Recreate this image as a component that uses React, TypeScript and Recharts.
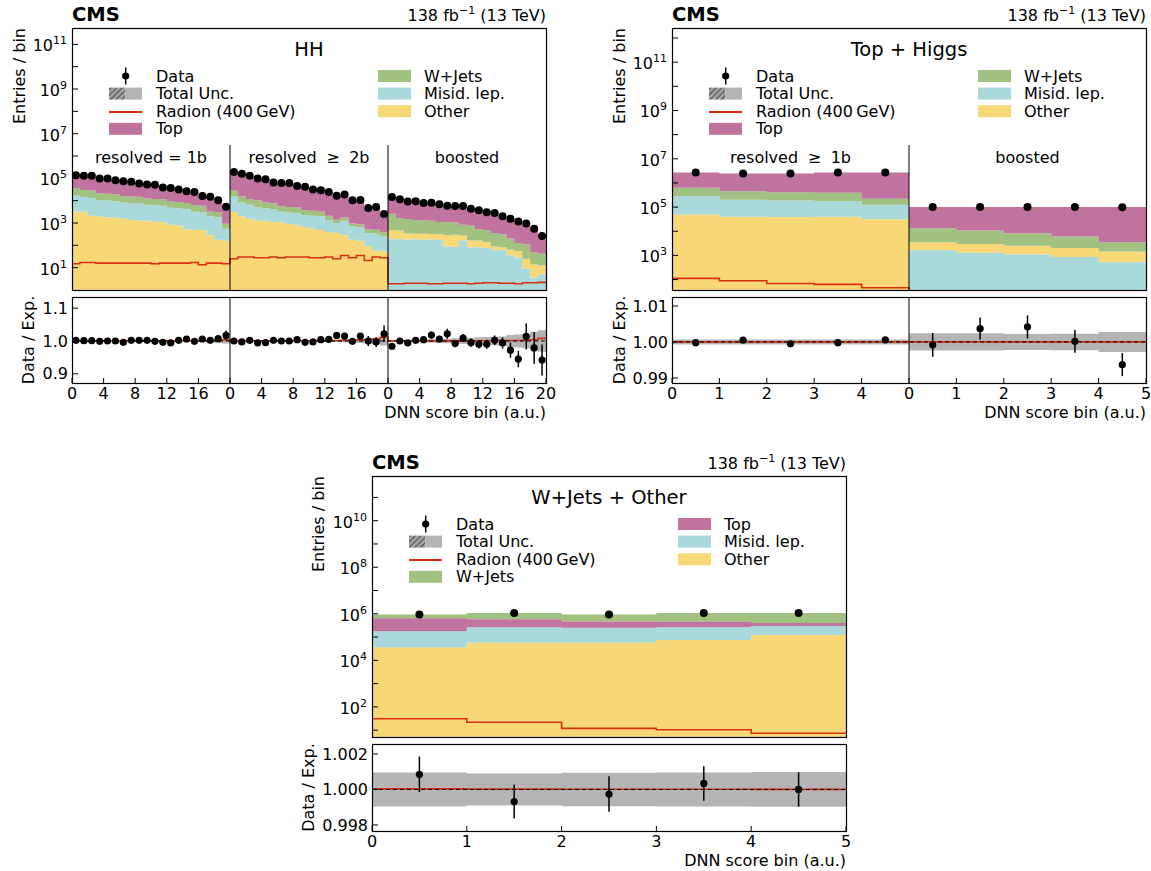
import React from "react";
import {
  ComposedChart,
  Area,
  Line,
  Scatter,
  ErrorBar,
  XAxis,
  YAxis,
  ReferenceLine,
} from "recharts";

const FONT = "'DejaVu Sans', Verdana, sans-serif";

type Proc = "top" | "wjets" | "misid" | "other";
type LegendKey = Proc | "data" | "unc" | "sig";

const PROCS: Proc[] = ["other", "misid", "wjets", "top"];
const COLORS: Record<Proc, string> = {
  top: "#c0739f",
  wjets: "#a0c180",
  misid: "#a9d9db",
  other: "#f8d776",
};
const LABELS: Record<Proc, string> = {
  top: "Top",
  wjets: "W+Jets",
  misid: "Misid. lep.",
  other: "Other",
};
const RADION_COLOR = "#d8300e";
const UNC_COLOR = "#b4b4b4";
const GE = "\u2002\u200a\u2265\u2002\u200a";

// ---------- HH category (3 regions x 20 bins) ----------
const HH_REGIONS = ["resolved = 1b", `resolved${GE}2b`, "boosted"];
const HH_OTHER = [
  3300, 3200, 2100, 2000, 1800, 1700, 1650, 1350, 1300, 1250, 1150, 1100, 830, 790, 520, 500, 480, 280, 180, 165,
  3100, 2000, 1550, 1300, 1250, 1100, 1070, 910, 790, 660, 560, 480, 400, 355, 280, 180, 160, 91, 58, 55,
  282, 271, 157, 145, 153, 142, 142, 193, 210, 109, 83, 87, 65, 26, 23, 28, 28, 16, 10.5, 7.6,
];
const HH_MISID = [
  14100, 11300, 11100, 8700, 8400, 8050, 6650, 6550, 6300, 5350, 5150, 4800, 3970, 3700, 3680, 2700, 2470, 1720, 1600, 395,
  11700, 6300, 5050, 3700, 3350, 3100, 2090, 2040, 2010, 1580, 1530, 1520, 950, 645, 980, 530, 470, 264, 272, 195,
  186, 186, 182, 186, 178, 182, 174, 89, 85, 166, 83, 79, 76, 63, 60, 35, 28, 9, 3.5, 5,
];
const HH_WJETS = [
  19800, 15700, 15000, 10700, 10200, 9700, 7900, 7600, 7200, 6000, 5700, 5600, 4300, 4200, 3700, 3100, 2950, 1300, 1220, 370,
  12700, 7500, 5400, 5500, 3700, 3400, 2440, 2300, 2200, 1560, 1460, 1300, 740, 410, 520, 245, 260, 170, 170, 130,
  2160, 1200, 1170, 1020, 960, 936, 804, 818, 755, 555, 594, 359, 339, 266, 233, 137, 70, 87, 34, 29,
];
const HH_TOP = [
  101000, 99000, 101000, 77000, 78000, 62000, 58000, 54000, 44000, 40000, 40000, 27500, 28000, 23000, 18500, 18000, 10000, 11500, 7500, 4300,
  167000, 146000, 117000, 87500, 83000, 57500, 56500, 57000, 40000, 38000, 28000, 26000, 22500, 14800, 16800, 9500, 9600, 4200, 4750, 2070,
  12200, 9800, 7800, 7950, 6600, 6650, 5800, 4650, 4700, 4900, 3600, 3200, 2600, 2450, 1700, 1400, 1100, 820, 510, 240,
];
const HH_RADION = [
  15, 17, 17, 16, 16, 16, 16, 16, 16, 16, 15, 16, 16, 16, 16, 17, 13.5, 16, 16, 15,
  25, 30, 30, 28, 28, 30, 28, 30, 30, 30, 28, 28, 30, 25, 35, 28, 35, 21, 30, 28,
  1.9, 1.9, 2.0, 2.0, 2.0, 1.9, 1.9, 2.0, 2.0, 2.0, 1.9, 2.0, 2.1, 2.1, 2.0, 2.0, 1.9, 2.1, 2.1, 2.2,
];
const HH_RATIO = [
  1.002, 1.001, 1.001, 0.999, 1.0, 1.0, 0.996, 1.002, 1.002, 1.002, 0.999, 0.996, 0.994, 1.002, 1.006, 0.999, 1.006, 1.002, 1.007, 1.017,
  1.0, 0.997, 1.002, 0.994, 0.995, 1.002, 1.0, 1.0, 1.004, 0.996, 0.997, 1.004, 1.005, 1.017, 1.015, 0.999, 1.015, 1.0, 0.997, 1.022,
  0.984, 1.0, 0.994, 1.002, 1.004, 1.018, 1.006, 1.022, 0.992, 1.009, 0.995, 0.99, 0.99, 1.002, 0.994, 0.972, 0.945, 1.014, 0.979, 0.942,
];
const HH_RATIO_ERR = [
  0.002, 0.002, 0.002, 0.002, 0.002, 0.002, 0.002, 0.002, 0.002, 0.002, 0.002, 0.003, 0.003, 0.003, 0.003, 0.004, 0.004, 0.005, 0.007, 0.015,
  0.002, 0.002, 0.002, 0.002, 0.002, 0.003, 0.003, 0.003, 0.003, 0.003, 0.004, 0.004, 0.004, 0.005, 0.005, 0.006, 0.008, 0.015, 0.015, 0.025,
  0.006, 0.006, 0.007, 0.007, 0.008, 0.011, 0.01, 0.015, 0.011, 0.012, 0.013, 0.013, 0.014, 0.015, 0.017, 0.023, 0.025, 0.04, 0.048, 0.047,
];
const HH_UNC = [
  0.0015, 0.0015, 0.0015, 0.0015, 0.0015, 0.0015, 0.0015, 0.0015, 0.0015, 0.0015, 0.002, 0.002, 0.002, 0.002, 0.002, 0.003, 0.003, 0.004, 0.005, 0.008,
  0.0015, 0.0015, 0.0015, 0.0015, 0.0015, 0.0015, 0.0015, 0.0015, 0.002, 0.002, 0.002, 0.002, 0.003, 0.003, 0.004, 0.005, 0.006, 0.008, 0.01, 0.014,
  0.003, 0.003, 0.003, 0.004, 0.004, 0.005, 0.006, 0.007, 0.008, 0.009, 0.01, 0.011, 0.012, 0.013, 0.014, 0.018, 0.02, 0.022, 0.028, 0.033,
];
const HH_ORDER: Proc[][] = [
  ["other", "misid", "wjets", "top"],
  ["other", "misid", "wjets", "top"],
  ["misid", "other", "wjets", "top"],
];

// ---------- Top + Higgs category (2 regions x 5 bins) ----------
const TH_REGIONS = [`resolved${GE}1b`, "boosted"];
const TH_OTHER = [50000, 40000, 39000, 40000, 31600, 1850, 1660, 1410, 1170, 925];
const TH_MISID = [232000, 164000, 147000, 134000, 94400, 1620, 1290, 1100, 870, 525];
const TH_WJETS = [349000, 253000, 231000, 215000, 98000, 10000, 7750, 5790, 3960, 2020];
const TH_TOP = [2070000, 1990000, 2030000, 2310000, 2480000, 86500, 89300, 91700, 94000, 96500];
const TH_RADION = [112, 89, 69, 63, 46, 4, 4, 4, 4, 4];
const TH_RATIO = [0.9998, 1.0005, 0.9995, 0.9998, 1.0006, 0.9992, 1.0037, 1.0042, 1.0002, 0.9937];
const TH_RATIO_ERR = [0.0003, 0.0003, 0.0003, 0.0003, 0.0003, 0.0033, 0.0031, 0.0032, 0.0032, 0.0032];
const TH_UNC = [0.0007, 0.0007, 0.0007, 0.0007, 0.0007, 0.0024, 0.0024, 0.0022, 0.0023, 0.0028];
const TH_ORDER: Proc[][] = [
  ["other", "misid", "wjets", "top"],
  ["misid", "other", "wjets", "top"],
];

// ---------- W+Jets + Other category (1 region x 5 bins) ----------
const WO_OTHER = [36300, 58900, 58900, 74100, 123000];
const WO_MISID = [141700, 204100, 192100, 188900, 179000];
const WO_TOP = [468000, 326000, 217000, 194000, 96000];
const WO_WJETS = [287000, 481000, 465000, 613000, 672000];
const WO_RADION = [31, 22, 12, 10.5, 7.4];
const WO_RATIO = [1.00085, 0.99932, 0.99974, 1.00034, 1.0];
const WO_RATIO_ERR = [0.001, 0.00096, 0.001, 0.00097, 0.00097];
const WO_UNC = [0.00096, 0.0009, 0.00094, 0.00096, 0.00098];
const WO_ORDER: Proc[][] = [["other", "misid", "top", "wjets"]];

// ---------- layout ----------
const W = 474;
const LW = 70;
const RW = 10;
const TH = 10;
const BH_MAIN = 10;
const BH_RATIO = 45;

type PanelCfg = {
  fx: number;
  fy: number;
  mainH: number;
  ry: number;
  rH: number;
  title: string;
  regions: string[];
  perRegion: number;
  order: Proc[][];
  yields: Record<Proc, number[]>;
  radion: number[];
  ratio: number[];
  ratioErr: number[];
  unc: number[];
  yDomain: [number, number];
  yTicks: number[];
  showExp: (e: number) => boolean;
  rDomain: [number, number];
  rTicks: number[];
  rDigits: number;
  xTicks: number[];
  xFmt: (v: number) => string;
  sepTop: number;
  entriesDx: number;
  ratioLabelDx: number;
  legend: LegendKey[][];
};

const decades = (a: number, b: number) => {
  const out: number[] = [];
  for (let e = a; e <= b; e++) out.push(Math.pow(10, e));
  return out;
};

const PANELS: PanelCfg[] = [
  {
    fx: 72, fy: 28, mainH: 262, ry: 297, rH: 86,
    title: "HH",
    regions: HH_REGIONS,
    perRegion: 20,
    order: HH_ORDER,
    yields: { top: HH_TOP, wjets: HH_WJETS, misid: HH_MISID, other: HH_OTHER },
    radion: HH_RADION, ratio: HH_RATIO, ratioErr: HH_RATIO_ERR, unc: HH_UNC,
    yDomain: [1, 5.4e11],
    yTicks: decades(1, 11),
    showExp: (e) => e % 2 === 1,
    rDomain: [0.872, 1.134],
    rTicks: [0.9, 1.0, 1.1],
    rDigits: 1,
    xTicks: Array.from({ length: 16 }, (_, i) => i * 4),
    xFmt: (v) => (v === 60 ? "20" : String(v % 20)),
    sepTop: 3.1e6,
    entriesDx: -53,
    ratioLabelDx: -44,
    legend: [["data", "unc", "sig", "top"], ["wjets", "misid", "other"]],
  },
  {
    fx: 672, fy: 28, mainH: 262, ry: 297, rH: 86,
    title: "Top + Higgs",
    regions: TH_REGIONS,
    perRegion: 5,
    order: TH_ORDER,
    yields: { top: TH_TOP, wjets: TH_WJETS, misid: TH_MISID, other: TH_OTHER },
    radion: TH_RADION, ratio: TH_RATIO, ratioErr: TH_RATIO_ERR, unc: TH_UNC,
    yDomain: [37, 2.6e12],
    yTicks: decades(2, 12),
    showExp: (e) => e % 2 === 1,
    rDomain: [0.9886, 1.0125],
    rTicks: [0.99, 1.0, 1.01],
    rDigits: 2,
    xTicks: Array.from({ length: 11 }, (_, i) => i),
    xFmt: (v) => (v === 10 ? "5" : String(v % 5)),
    sepTop: 3.7e7,
    entriesDx: -53,
    ratioLabelDx: -53,
    legend: [["data", "unc", "sig", "top"], ["wjets", "misid", "other"]],
  },
  {
    fx: 372, fy: 476, mainH: 261, ry: 744, rH: 87,
    title: "W+Jets + Other",
    regions: ["all"],
    perRegion: 5,
    order: WO_ORDER,
    yields: { top: WO_TOP, wjets: WO_WJETS, misid: WO_MISID, other: WO_OTHER },
    radion: WO_RADION, ratio: WO_RATIO, ratioErr: WO_RATIO_ERR, unc: WO_UNC,
    yDomain: [5.1, 8.3e11],
    yTicks: decades(1, 11),
    showExp: (e) => e % 2 === 0,
    rDomain: [0.99766, 1.00256],
    rTicks: [0.998, 1.0, 1.002],
    rDigits: 3,
    xTicks: [0, 1, 2, 3, 4, 5],
    xFmt: (v) => String(v),
    sepTop: 1,
    entriesDx: -54,
    ratioLabelDx: -63.5,
    legend: [["data", "unc", "sig", "wjets"], ["top", "misid", "other"]],
  },
];

const logTick = (show: (e: number) => boolean) => (props: any) => {
  const { x, y, payload } = props;
  const e = Math.round(Math.log10(payload.value));
  if (!show(e)) return <g />;
  return (
    <text x={x} y={y + 7} textAnchor="end" fontSize={16} fontFamily={FONT} fill="#000">
      10
      <tspan dy={-7} fontSize={11}>
        {e}
      </tspan>
    </text>
  );
};

const bigDot = (r: number) => (props: any) =>
  props.cx == null ? <g /> : <circle cx={props.cx} cy={props.cy} r={r} fill="#000" />;

function PanelCharts({ p }: { p: PanelCfg }) {
  const n = p.ratio.length;
  const total = p.ratio.map((_, i) => PROCS.reduce((s, k) => s + p.yields[k][i], 0));
  const edges = Array.from({ length: n + 1 }, (_, i) => i);

  const mainRows = edges.map((i) => {
    const b = Math.min(i, n - 1);
    const row: any = { x: i, sig: p.radion[b] };
    let acc = 0;
    p.order[Math.floor(b / p.perRegion)].forEach((k) => {
      const hi = acc + p.yields[k][b];
      row[k] = [acc === 0 ? p.yDomain[0] : acc, hi];
      acc = hi;
    });
    return row;
  });
  const ratioRows = edges.map((i) => {
    const b = Math.min(i, n - 1);
    return { x: i, band: [1 - p.unc[b], 1 + p.unc[b]], sig: 1 + p.radion[b] / total[b] };
  });
  const dataPts = total.map((t, i) => ({ x: i + 0.5, y: t * p.ratio[i] }));
  const ratioPts = p.ratio.map((r, i) => ({ x: i + 0.5, y: r, err: p.ratioErr[i] }));
  const seps = p.regions.slice(1).map((_, r) => (r + 1) * p.perRegion);

  const xCommon = {
    type: "number" as const,
    dataKey: "x",
    domain: [0, n],
    ticks: p.xTicks,
    allowDataOverflow: true,
    axisLine: false,
    tickSize: -5,
    stroke: "#000",
    interval: 0 as const,
  };

  return (
    <>
      <div style={{ position: "absolute", left: p.fx - LW, top: p.fy - TH }}>
        <ComposedChart
          width={LW + W + RW}
          height={TH + p.mainH + BH_MAIN}
          data={mainRows}
          margin={{ top: 0, right: 0, bottom: 0, left: 0 }}
        >
          <XAxis {...xCommon} tick={false} height={BH_MAIN} />
          <XAxis {...xCommon} xAxisId="t" orientation="top" tick={false} height={TH} />
          <YAxis
            scale="log"
            type="number"
            domain={p.yDomain}
            ticks={p.yTicks}
            allowDataOverflow
            width={LW}
            axisLine={false}
            tickSize={-6}
            tickMargin={11}
            stroke="#000"
            interval={0}
            tick={logTick(p.showExp)}
          />
          <YAxis
            yAxisId="r"
            orientation="right"
            scale="log"
            type="number"
            domain={p.yDomain}
            ticks={p.yTicks}
            allowDataOverflow
            width={RW}
            axisLine={false}
            tickSize={-6}
            stroke="#000"
            interval={0}
            tick={false}
          />
          {PROCS.map((k) => (
            <Area
              key={k}
              dataKey={k}
              type="stepAfter"
              fill={COLORS[k]}
              fillOpacity={1}
              stroke="none"
              dot={false}
              activeDot={false}
              isAnimationActive={false}
            />
          ))}
          <Line
            dataKey="sig"
            type="stepAfter"
            stroke={RADION_COLOR}
            strokeWidth={1.6}
            dot={false}
            activeDot={false}
            isAnimationActive={false}
          />
          {seps.map((s) => (
            <ReferenceLine
              key={s}
              segment={[
                { x: s, y: p.yDomain[0] },
                { x: s, y: p.sepTop },
              ]}
              stroke="#000"
              strokeWidth={1}
            />
          ))}
          <Scatter data={dataPts} dataKey="y" isAnimationActive={false} shape={bigDot(4)} />
        </ComposedChart>
      </div>

      <div style={{ position: "absolute", left: p.fx - LW, top: p.ry - TH }}>
        <ComposedChart
          width={LW + W + RW}
          height={TH + p.rH + BH_RATIO}
          data={ratioRows}
          margin={{ top: 0, right: 0, bottom: 0, left: 0 }}
        >
          <XAxis
            {...xCommon}
            height={BH_RATIO}
            tickMargin={10}
            tickFormatter={p.xFmt}
            tick={{ fontSize: 16, fill: "#000", fontFamily: FONT }}
          />
          <XAxis {...xCommon} xAxisId="t" orientation="top" tick={false} height={TH} />
          <YAxis
            type="number"
            domain={p.rDomain}
            ticks={p.rTicks}
            allowDataOverflow
            width={LW}
            axisLine={false}
            tickSize={-6}
            tickMargin={10}
            stroke="#000"
            interval={0}
            tickFormatter={(v: number) => v.toFixed(p.rDigits)}
            tick={{ fontSize: 16, fill: "#000", fontFamily: FONT }}
          />
          <YAxis
            yAxisId="r"
            orientation="right"
            type="number"
            domain={p.rDomain}
            ticks={p.rTicks}
            allowDataOverflow
            width={RW}
            axisLine={false}
            tickSize={-6}
            stroke="#000"
            interval={0}
            tick={false}
          />
          <Area
            dataKey="band"
            type="stepAfter"
            fill={UNC_COLOR}
            fillOpacity={1}
            stroke="none"
            dot={false}
            activeDot={false}
            isAnimationActive={false}
          />
          <Line
            dataKey="sig"
            type="stepAfter"
            stroke={RADION_COLOR}
            strokeWidth={1.6}
            dot={false}
            activeDot={false}
            isAnimationActive={false}
          />
          <ReferenceLine y={1} stroke="#000" strokeWidth={1} strokeDasharray="4 3" />
          {seps.map((s) => (
            <ReferenceLine key={s} x={s} stroke="#000" strokeWidth={1} />
          ))}
          <Scatter data={ratioPts} dataKey="y" isAnimationActive={false} shape={bigDot(3.6)}>
            <ErrorBar dataKey="err" direction="y" width={0} stroke="#000" strokeWidth={1.5} />
          </Scatter>
        </ComposedChart>
      </div>
    </>
  );
}

function LegendItem({ k, x, base }: { k: LegendKey; x: number; base: number }) {
  const cy = base - 5.5;
  if (k === "data") {
    return (
      <g>
        <line x1={x + 16.7} x2={x + 16.7} y1={cy - 8.5} y2={cy + 8.5} stroke="#000" strokeWidth={1.5} />
        <circle cx={x + 16.7} cy={cy} r={3.6} fill="#000" />
      </g>
    );
  }
  if (k === "unc") {
    return (
      <g>
        <rect x={x} y={cy - 6} width={16.5} height={12} fill="url(#hatch)" />
        <rect x={x + 16.5} y={cy - 6} width={16.5} height={12} fill={UNC_COLOR} />
      </g>
    );
  }
  if (k === "sig") {
    return <line x1={x} x2={x + 33} y1={base - 4.7} y2={base - 4.7} stroke={RADION_COLOR} strokeWidth={2} />;
  }
  return <rect x={x} y={cy - 6} width={33} height={12} fill={COLORS[k]} />;
}

const legendText = (k: LegendKey) =>
  k === "data" ? "Data" : k === "unc" ? "Total Unc." : k === "sig" ? "Radion (400\u2009GeV)" : LABELS[k];

function PanelOverlay({ p }: { p: PanelCfg }) {
  const nReg = p.regions.length;
  return (
    <g fontFamily={FONT} fill="#000">
      <rect x={p.fx + 0.5} y={p.fy + 0.5} width={W} height={p.mainH} fill="none" stroke="#000" strokeWidth={1.2} />
      <rect x={p.fx + 0.5} y={p.ry + 0.5} width={W} height={p.rH} fill="none" stroke="#000" strokeWidth={1.2} />

      <text x={p.fx} y={p.fy - 7} fontSize={19.5} fontWeight="bold">
        CMS
      </text>
      <text x={p.fx + W} y={p.fy - 7} fontSize={16} textAnchor="end">
        138 fb
        <tspan dy={-7} fontSize={11}>
          {"\u22121"}
        </tspan>
        <tspan dy={7}> (13 TeV)</tspan>
      </text>

      <text x={p.fx + W / 2} y={p.fy + 27.5} fontSize={19.5} textAnchor="middle">
        {p.title}
      </text>

      {nReg > 1 &&
        p.regions.map((r, i) => (
          <text key={r} x={p.fx + ((i + 0.5) * W) / nReg} y={p.fy + 135} fontSize={16} textAnchor="middle">
            {r}
          </text>
        ))}

      {p.legend.map((col, c) =>
        col.map((k, j) => {
          const base = p.fy + 53.5 + j * 17.6;
          const mx = p.fx + (c === 0 ? 37 : 306);
          const tx = p.fx + (c === 0 ? 84 : 352);
          return (
            <g key={k}>
              <LegendItem k={k} x={mx} base={base} />
              <text x={tx} y={base} fontSize={16}>
                {legendText(k)}
              </text>
            </g>
          );
        })
      )}

      <text
        transform={`translate(${p.fx + p.entriesDx},${p.fy}) rotate(-90)`}
        fontSize={16}
        textAnchor="end"
        dominantBaseline="central"
      >
        Entries / bin
      </text>
      <text
        transform={`translate(${p.fx + p.ratioLabelDx},${p.ry + p.rH / 2}) rotate(-90)`}
        fontSize={16}
        textAnchor="middle"
        dominantBaseline="central"
      >
        Data / Exp.
      </text>
      <text x={p.fx + W} y={p.ry + p.rH + 35} fontSize={16} textAnchor="end">
        DNN score bin (a.u.)
      </text>
    </g>
  );
}

export default function App() {
  return (
    <div
      style={{
        position: "absolute",
        left: 0,
        top: 0,
        width: 1151,
        height: 871,
        background: "#fff",
        fontFamily: FONT,
      }}
    >
      {PANELS.map((p) => (
        <PanelCharts key={p.title} p={p} />
      ))}
      <svg
        width={1151}
        height={871}
        style={{ position: "absolute", left: 0, top: 0, pointerEvents: "none" }}
      >
        <defs>
          <pattern id="hatch" width={4} height={4} patternUnits="userSpaceOnUse" patternTransform="rotate(45)">
            <rect width={4} height={4} fill="#a0a0a0" />
            <line x1={0} y1={0} x2={0} y2={4} stroke="#3a3a3a" strokeWidth={1.6} />
          </pattern>
        </defs>
        {PANELS.map((p) => (
          <PanelOverlay key={p.title} p={p} />
        ))}
      </svg>
    </div>
  );
}
